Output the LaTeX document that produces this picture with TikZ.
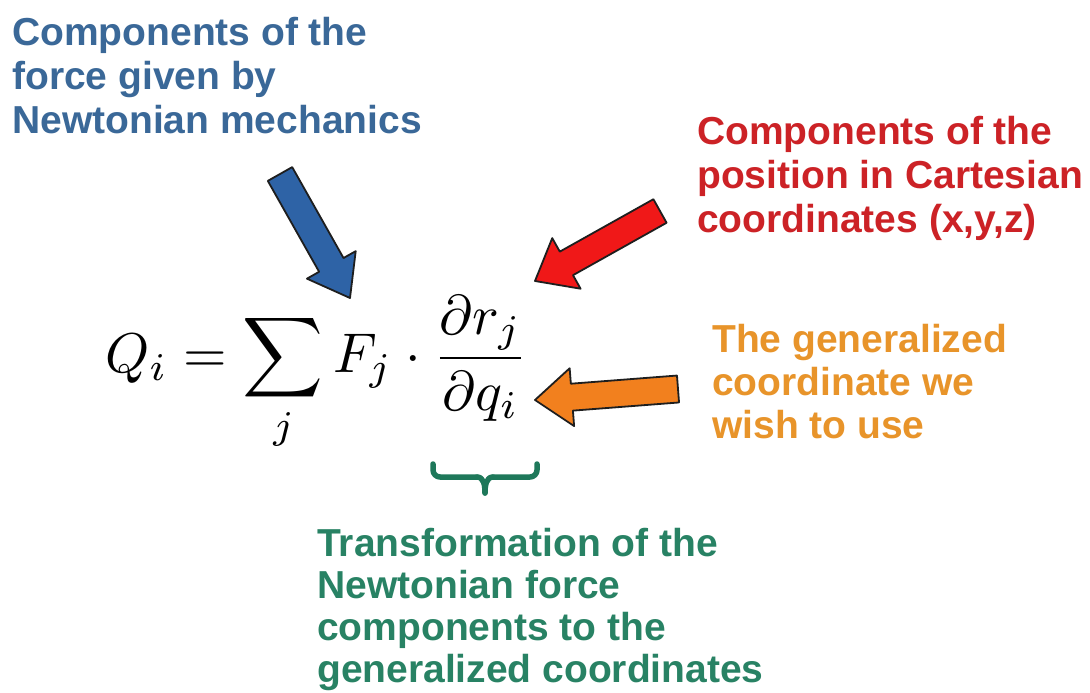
\documentclass[tikz,border=0pt]{standalone}
\usepackage{graphicx}
\usepackage{fontspec}
\setmainfont{Liberation Sans}
\usetikzlibrary{calc}
\definecolor{blueT}{RGB}{58,104,152}
\definecolor{blueA}{RGB}{46,99,166}
\definecolor{redT}{RGB}{204,34,38}
\definecolor{redA}{RGB}{240,24,24}
\definecolor{orangeT}{RGB}{232,148,42}
\definecolor{orangeA}{RGB}{242,128,30}
\definecolor{greenT}{RGB}{40,130,100}
\definecolor{greenB}{RGB}{30,120,90}
\definecolor{outl}{RGB}{30,30,30}
\newcommand{\blockarrow}[6]{%
  \coordinate (#2-h) at ($(#3)!#6!(#2)$);
  \draw[#1] ($(#2)!#4!90:(#3)$) -- ($(#2-h)!#4!90:(#3)$) -- ($(#2-h)!#5!90:(#3)$)
    -- (#3) -- ($(#2-h)!#5!-90:(#3)$) -- ($(#2-h)!#4!-90:(#3)$) -- ($(#2)!#4!-90:(#3)$) -- cycle;}
\tikzset{
  label/.style={anchor=base west, inner sep=0pt, align=left, font=\fontsize{39}{44}\selectfont\bfseries},
  blockarr/.style={line width=1.8pt, draw=outl, line join=round},
  bracestyle/.style={draw=greenB, line width=5.5pt, line cap=round, line join=round}
}
\begin{document}
\begin{tikzpicture}[x=1pt,y=-1pt]
\useasboundingbox[fill=white] (0,0) rectangle (1090,693);
% texts (anchor = baseline of the last line)
\node[label, text=blueT] (blue) at (12,133) {Components of the\\force given by\\Newtonian mechanics};
\node[label, text=redT] (red) at (697,232) {Components of the\\position in Cartesian\\coordinates (x,y,z)};
\node[label, text=orangeT, font=\fontsize{39}{43}\selectfont\bfseries] (orange) at (712,438) {The generalized\\coordinate we\\wish to use};
\node[label, text=greenT, font=\fontsize{39}{41.7}\selectfont\bfseries] (green) at (317,682) {Transformation of the\\Newtonian force\\components to the\\generalized coordinates};
% equation
\node[anchor=base west, inner sep=0pt] (eq) at (105,372)
  {\scalebox{5.6}{$\displaystyle Q_i = \sum_j F_j \cdot \frac{\partial r_j}{\partial q_i}$}};
% arrows
\coordinate (bt) at (280,174); \coordinate (bh) at (350,298);
\coordinate (rt) at (660,211); \coordinate (rh) at (535,281);
\coordinate (ot) at (678,389); \coordinate (oh) at (535,400);
\blockarrow{blockarr, fill=blueA}{bt}{bh}{14pt}{28pt}{38pt}
\blockarrow{blockarr, fill=redA}{rt}{rh}{13.5pt}{29pt}{36pt}
\blockarrow{blockarr, fill=orangeA}{ot}{oh}{13.5pt}{29pt}{37pt}
% brace
\coordinate (bl) at (433,464); \coordinate (br) at (537,464); \coordinate (bm) at (485,493);
\draw[bracestyle, rounded corners=7pt] (bl) |- (477,477);
\draw[bracestyle] (477,477) to[out=0,in=90] (bm);
\draw[bracestyle] (bm) to[out=90,in=180] (493,477);
\draw[bracestyle, rounded corners=7pt] (493,477) -| (br);
\end{tikzpicture}
\end{document}
